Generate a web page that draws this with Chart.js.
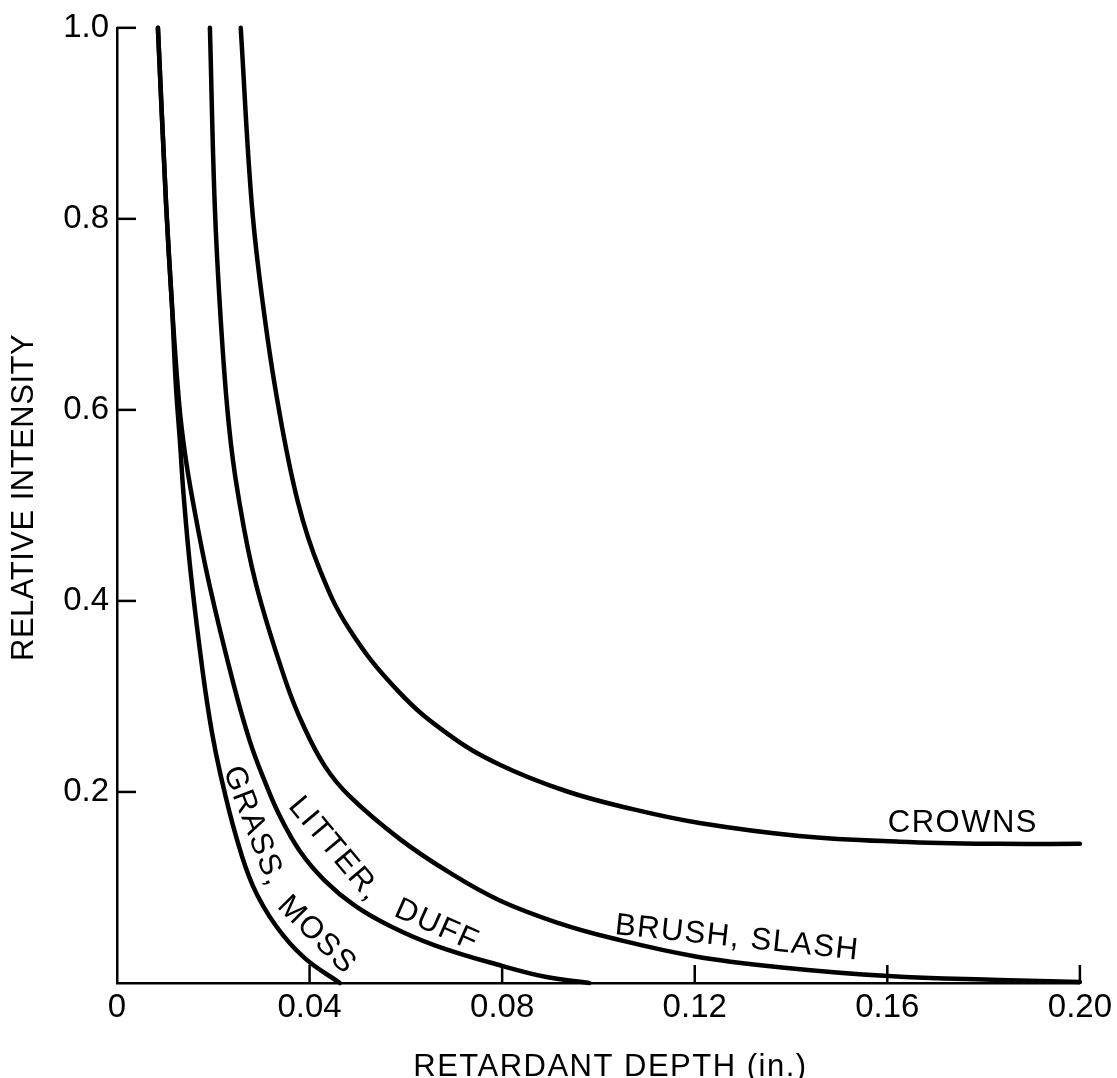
<!DOCTYPE html>
<html>
<head>
<meta charset="utf-8">
<script src="https://cdn.jsdelivr.net/npm/chart.js@4.4.1/dist/chart.umd.min.js"></script>
<style>
  html, body { margin: 0; padding: 0; background: #fff; }
  #wrap { width: 1117px; height: 1078px; position: relative; }
</style>
</head>
<body>
<div id="wrap"><canvas id="chart"></canvas></div>
<script>
// curve values (retardant depth in inches, relative intensity)
const grassX = [0.0085, 0.0102, 0.0114, 0.0122, 0.0131, 0.0138, 0.0153, 0.0178, 0.0197, 0.0216, 0.0247, 0.0282, 0.0330, 0.0390, 0.0463];
const grassY = [1.0, 0.815, 0.711, 0.628, 0.565, 0.513, 0.430, 0.326, 0.263, 0.216, 0.154, 0.102, 0.060, 0.026, 0.0];

const litterX = [0.0085, 0.0102, 0.0114, 0.0129, 0.0141, 0.0158, 0.0191, 0.0241, 0.0276, 0.0307, 0.0338, 0.0380, 0.0432, 0.0494, 0.0566, 0.0660, 0.0801, 0.0892, 0.0981];
const litterY = [1.0, 0.815, 0.711, 0.607, 0.555, 0.503, 0.419, 0.315, 0.253, 0.211, 0.175, 0.138, 0.107, 0.081, 0.060, 0.0395, 0.0177, 0.0062, 0.0];

const brushX = [0.0193, 0.0203, 0.0216, 0.0232, 0.0251, 0.0288, 0.0351, 0.0388, 0.0432, 0.0483, 0.0587, 0.0691, 0.0795, 0.0919, 0.1029, 0.1199, 0.1376, 0.1602, 0.1832, 0.2];
const brushY = [1.0, 0.815, 0.690, 0.586, 0.513, 0.419, 0.315, 0.2685, 0.2268, 0.1956, 0.1509, 0.1155, 0.0864, 0.0624, 0.0468, 0.0281, 0.0166, 0.0073, 0.0031, 0.001];

const crownsX = [0.0257, 0.0280, 0.0303, 0.0334, 0.0376, 0.0421, 0.0483, 0.0585, 0.0689, 0.0793, 0.0932, 0.1071, 0.1210, 0.1417, 0.1625, 0.1832, 0.2];
const crownsY = [1.0, 0.815, 0.711, 0.607, 0.503, 0.433, 0.370, 0.305, 0.260, 0.229, 0.201, 0.182, 0.1675, 0.154, 0.148, 0.1457, 0.1457];

// curve labels written along the lines
const labelTexts = ["GRASS,", "MOSS", "LITTER,", "DUFF", "BRUSH, SLASH", "CROWNS"];
const labelX = [0.0284, 0.0415, 0.0452, 0.0664, 0.1288, 0.1757];
const labelY = [0.164, 0.050, 0.140, 0.060, 0.0468, 0.1675];
const labelAngle = [69, 45, 50, 24, 6, 0];

const xTitle = "RETARDANT DEPTH (in.)";
const yTitle = "RELATIVE INTENSITY";

const FONT = "'Liberation Sans', Arial, Helvetica, sans-serif";

function toPoints(xs, ys) {
  return xs.map((x, i) => ({ x: x, y: ys[i] }));
}

function curve(xs, ys) {
  return {
    data: toPoints(xs, ys),
    showLine: true,
    borderColor: "#000",
    borderWidth: 4.5,
    pointRadius: 0,
    tension: 0.4,
    borderCapStyle: "round",
    borderJoinStyle: "round",
    clip: false
  };
}

// inward tick marks, axis titles and curve labels
const decorations = {
  id: "decorations",
  afterDraw(chart) {
    const ctx = chart.ctx;
    const xs = chart.scales.x;
    const ys = chart.scales.y;
    const area = chart.chartArea;

    ctx.save();
    ctx.strokeStyle = "#000";
    ctx.lineWidth = 2.5;
    xs.ticks.forEach(t => {
      if (t.value <= 0) return;
      const px = xs.getPixelForValue(t.value);
      ctx.beginPath();
      ctx.moveTo(px, area.bottom);
      ctx.lineTo(px, area.bottom - 18);
      ctx.stroke();
    });
    ys.ticks.forEach(t => {
      if (t.value <= 0) return;
      const py = ys.getPixelForValue(t.value);
      ctx.beginPath();
      ctx.moveTo(area.left, py);
      ctx.lineTo(area.left + 19, py);
      ctx.stroke();
    });

    ctx.fillStyle = "#000";
    ctx.font = "31px " + FONT;
    ctx.textAlign = "center";
    ctx.textBaseline = "alphabetic";

    ctx.letterSpacing = "1.5px";
    ctx.fillText(xTitle, (area.left + area.right) / 2 + 12, chart.height - 2);

    ctx.save();
    ctx.letterSpacing = "0.5px";
    ctx.translate(33, (area.top + area.bottom) / 2 - 8);
    ctx.rotate(-Math.PI / 2);
    ctx.fillText(yTitle, 0, 0);
    ctx.restore();

    ctx.letterSpacing = "1.5px";
    ctx.textBaseline = "middle";
    labelTexts.forEach((txt, i) => {
      const px = xs.getPixelForValue(labelX[i]);
      const py = ys.getPixelForValue(labelY[i]);
      ctx.save();
      ctx.translate(px, py);
      ctx.rotate(labelAngle[i] * Math.PI / 180);
      ctx.fillText(txt, 0, 0);
      ctx.restore();
    });
    ctx.restore();
  }
};

new Chart(document.getElementById("chart"), {
  type: "scatter",
  data: {
    datasets: [
      curve(grassX, grassY),
      curve(litterX, litterY),
      curve(brushX, brushY),
      curve(crownsX, crownsY)
    ]
  },
  options: {
    responsive: true,
    maintainAspectRatio: false,
    animation: false,
    layout: { padding: { top: 22, right: 36, left: 0, bottom: 0 } },
    plugins: {
      legend: { display: false },
      tooltip: { enabled: false }
    },
    scales: {
      x: {
        type: "linear",
        min: 0,
        max: 0.2,
        afterFit: s => { s.height = 95; },
        grid: { display: true, drawOnChartArea: false, drawTicks: false },
        border: { display: true, color: "#000", width: 2.5 },
        ticks: {
          stepSize: 0.04,
          padding: 5,
          color: "#000",
          font: { family: FONT, size: 33 },
          maxRotation: 0,
          callback: v => (v === 0 ? "0" : v.toFixed(2))
        }
      },
      y: {
        type: "linear",
        min: 0,
        max: 1,
        afterFit: s => { s.width = 117; },
        grid: { display: true, drawOnChartArea: false, drawTicks: false },
        border: { display: true, color: "#000", width: 2.5 },
        ticks: {
          stepSize: 0.2,
          padding: 8,
          color: "#000",
          font: { family: FONT, size: 33 },
          callback: v => (v === 0 ? "" : v.toFixed(1))
        }
      }
    }
  },
  plugins: [decorations]
});
</script>
</body>
</html>
